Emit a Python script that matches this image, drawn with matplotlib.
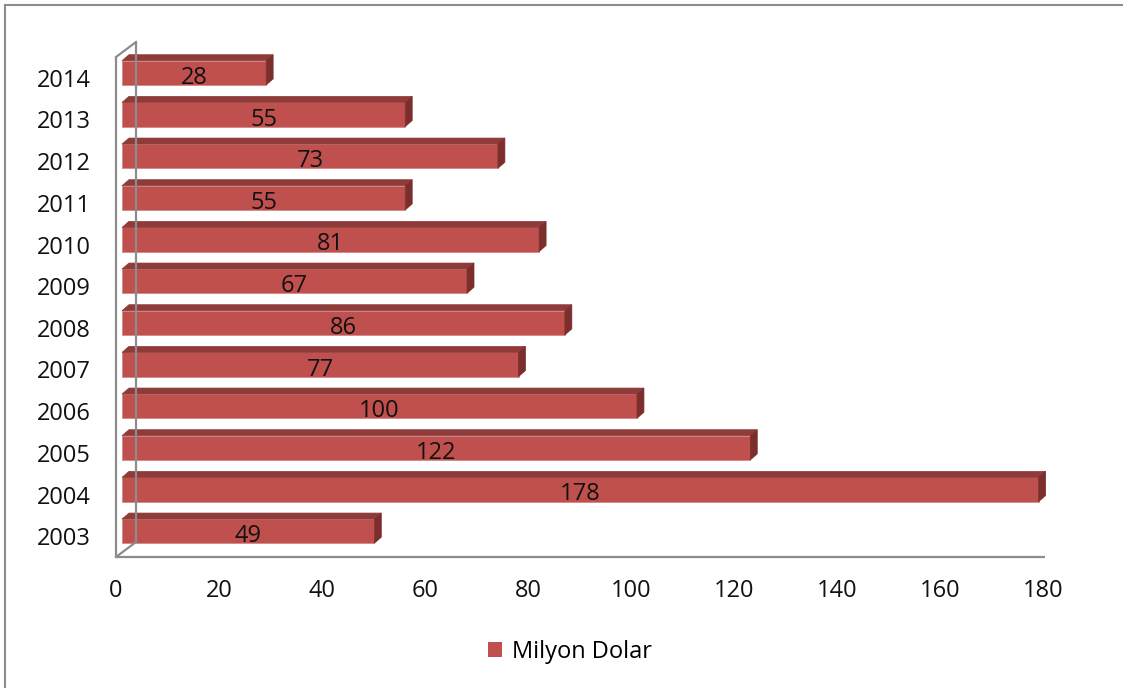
import matplotlib
matplotlib.use("Agg")
import matplotlib.pyplot as plt
import matplotlib.transforms as mtransforms
from matplotlib.patches import Polygon
from matplotlib.lines import Line2D

plt.rcParams["font.family"] = ["Open Sans", "DejaVu Sans"]

years = ["2003", "2004", "2005", "2006", "2007", "2008",
         "2009", "2010", "2011", "2012", "2013", "2014"]
values = [49, 178, 122, 100, 77, 86, 67, 81, 55, 73, 55, 28]
x_ticks = [0, 20, 40, 60, 80, 100, 120, 140, 160, 180]
series_name = "Milyon Dolar"

FACE = "#C0504D"
TOP = "#8E3B39"
SIDE = "#7C2E2C"
AXIS = "#8C8C8C"
FS = 17

W, H = 1123, 688
fig = plt.figure(figsize=(W / 100, H / 100), dpi=100)
ax = fig.add_axes([116 / W, 1 - 557 / H, (1043 - 116) / W, 500 / H])

ax.set_xlim(0, 180)
ax.set_ylim(-0.5, len(years) - 0.5)
for s in ax.spines.values():
    s.set_visible(False)

# offsets for the fake 3d look
front = ax.transData + mtransforms.ScaledTranslation(6 / 100, 5 / 100, fig.dpi_scale_trans)
wall_off = ax.transAxes + mtransforms.ScaledTranslation(20 / 100, 15 / 100, fig.dpi_scale_trans)
label_tr = ax.transData + mtransforms.ScaledTranslation(6 / 100, 3 / 100, fig.dpi_scale_trans)
dx, dy = 1.35, 0.145  # bar depth in data units
bh = 0.58

# walls
kw = dict(color=AXIS, lw=1.6, clip_on=False, solid_capstyle="butt")
ax.plot([0, 0], [0, 1], transform=ax.transAxes, **kw)
ax.plot([0, 1.002], [0, 0], transform=ax.transAxes, **kw)
ax.plot([0, 0], [0, 1], transform=wall_off, **kw)
fig.add_artist(Line2D([116 / W, 136 / W], [1 - 557 / H, 1 - 542 / H], color=AXIS, lw=1.6))
fig.add_artist(Line2D([116 / W, 136 / W], [1 - 57 / H, 1 - 42 / H], color=AXIS, lw=1.6))

ypos = list(range(len(years)))
bars = ax.barh(ypos, values, height=bh, color=FACE, edgecolor="#D08A88", linewidth=0.6)
for b in bars:
    b.set_transform(front)
    b.set_clip_on(False)

for y, v in zip(ypos, values):
    t = y + bh / 2
    top = Polygon([(0, t), (v, t), (v + dx, t + dy), (dx, t + dy)],
                  closed=True, facecolor=TOP, edgecolor=TOP, lw=0.5,
                  transform=front, clip_on=False)
    side = Polygon([(v, t), (v + dx, t + dy), (v + dx, y - bh / 2 + dy), (v, y - bh / 2)],
                   closed=True, facecolor=SIDE, edgecolor=SIDE, lw=0.5,
                   transform=front, clip_on=False)
    ax.add_patch(top)
    ax.add_patch(side)
    ax.text(v / 2, y, str(v), transform=label_tr, ha="center", va="center_baseline",
            fontsize=FS, color="#111111")

ax.set_yticks(ypos)
ax.set_yticklabels(years)
ax.set_xticks(x_ticks)
ax.tick_params(axis="both", length=0, labelsize=FS, labelcolor="#111111")
ax.tick_params(axis="y", pad=18)
ax.tick_params(axis="x", pad=16)

handle = plt.Rectangle((0, 0), 1, 1, facecolor=FACE)
fig.legend([handle], [series_name], loc="center", bbox_to_anchor=(570 / W, 1 - 652 / H),
           frameon=False, fontsize=FS, handlelength=0.6, handleheight=0.6,
           handletextpad=0.4)

# chart area border (only left and top visible)
fig.add_artist(Line2D([4.5 / W, 4.5 / W], [0, 1 - 4.5 / H], color=AXIS, lw=1.5))
fig.add_artist(Line2D([4.5 / W, 1], [1 - 4.5 / H, 1 - 4.5 / H], color=AXIS, lw=1.5))

fig.savefig("out.png", dpi=100)
